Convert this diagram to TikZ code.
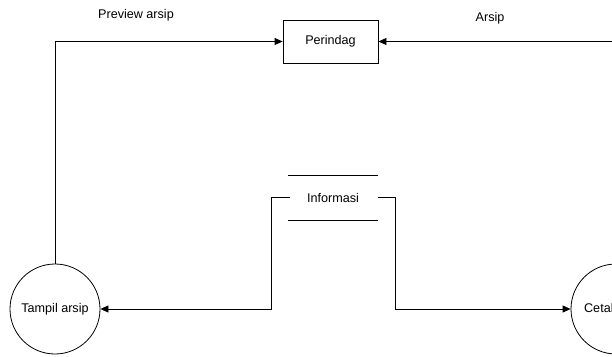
\documentclass[tikz,border=0pt]{standalone}
\usepackage{fontspec}
\setmainfont{Liberation Sans}
\usetikzlibrary{arrows.meta}
\begin{document}
\begin{tikzpicture}[x=1pt,y=1pt,
  every node/.style={font=\fontsize{12.6}{14}\selectfont},
  flow/.style={draw=black, line width=0.8pt, -{Triangle[length=8pt,width=7pt]}},
  entity/.style={draw=black, line width=0.8pt, minimum width=95pt, minimum height=43pt, inner sep=0pt},
  process/.style={draw=black, line width=0.8pt, circle, minimum size=90pt, inner sep=0pt},
  store/.style={minimum width=90pt, minimum height=44.5pt, inner sep=0pt},
  label/.style={inner sep=0pt}]
  \useasboundingbox (0,0) rectangle (612,356);

  % external entity, processes and data store
  \node[entity] (perindag) at (330.5,314.5) {Perindag};
  \node[process] (tampil) at (55,47) {Tampil arsip};
  \node[process] (cetak) at (616,47) {Cetak arsip};
  \node[store] (informasi) at (333,158.25) {Informasi};
  \draw[line width=0.8pt] (informasi.north west) -- (informasi.north east);
  \draw[line width=0.8pt] (informasi.south west) -- (informasi.south east);

  % data flows
  \coordinate (arsipend) at (612,314.5);
  \draw[flow] (tampil.north) |- (perindag.west);
  \draw[flow] (arsipend) -- (perindag.east);
  \draw[flow] ([xshift=2pt]informasi.west) -- ++(-18,0) |- (tampil.east);
  \draw[flow] (informasi.east) -- ++(17,0) |- (cetak.west);

  % flow labels
  \node[label] (lblpreview) at (136,341) {Preview arsip};
  \node[label] (lblarsip) at (490,338) {Arsip};
\end{tikzpicture}
\end{document}
